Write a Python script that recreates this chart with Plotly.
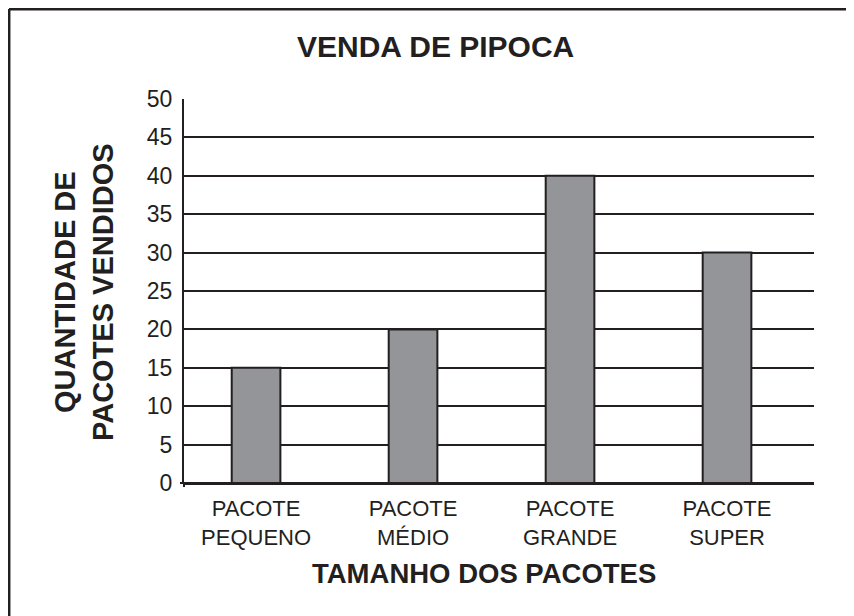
import plotly.graph_objects as go

categories = ["PACOTE<br>PEQUENO", "PACOTE<br>MÉDIO", "PACOTE<br>GRANDE", "PACOTE<br>SUPER"]
values = [15, 20, 40, 30]
y_ticks = [0, 5, 10, 15, 20, 25, 30, 35, 40, 45, 50]

INK = "#231f20"
OFF = 8  # page body margin
W, H = 854 - OFF, 616 - OFF
L, R, T, B = 176, 40, 91, 133
pw, ph = W - L - R, H - T - B

def px(x):
    return (x - OFF - L) / pw

def py(y):
    return (H - B - (y - OFF)) / ph

fig = go.Figure()
fig.add_trace(go.Bar(
    x=categories, y=values, width=0.31,
    marker=dict(color="#939598", line=dict(color=INK, width=2)),
))

fig.update_layout(
    width=W, height=H,
    margin=dict(l=L, r=R, t=T, b=B, pad=0),
    paper_bgcolor="white", plot_bgcolor="white",
    showlegend=False,
    font=dict(family="Liberation Sans, Arial, sans-serif", color=INK),
    xaxis=dict(
        type="category", range=[-0.459, 3.554],
        showgrid=False, showline=False, zeroline=False, ticks="",
        tickfont=dict(size=22, color=INK), ticklabelstandoff=10,
    ),
    yaxis=dict(
        range=[0, 50], tickvals=y_ticks, ticks="",
        showgrid=True, gridcolor=INK, gridwidth=2,
        zeroline=True, zerolinecolor=INK, zerolinewidth=2.5,
        showline=True, linecolor=INK, linewidth=2,
        tickfont=dict(size=23, color=INK), ticklabelstandoff=5,
    ),
    annotations=[
        dict(text="<b>VENDA DE PIPOCA</b>", xref="paper", yref="paper",
             x=px(435), y=py(47), xanchor="center", yanchor="middle",
             showarrow=False, font=dict(size=30, color=INK)),
        dict(text="<b>TAMANHO DOS PACOTES</b>", xref="paper", yref="paper",
             x=px(484), y=py(573), xanchor="center", yanchor="middle",
             showarrow=False, font=dict(size=27.5, color=INK)),
        dict(text="<b>QUANTIDADE DE<br>PACOTES VENDIDOS</b>", xref="paper", yref="paper",
             x=px(84), y=py(292), xanchor="center", yanchor="middle",
             textangle=-90, showarrow=False, font=dict(size=29, color=INK)),
    ],
    shapes=[
        dict(type="line", xref="paper", yref="paper", x0=px(9), y0=py(9.2), x1=px(870), y1=py(9.2),
             line=dict(color=INK, width=2.5)),
        dict(type="line", xref="paper", yref="paper", x0=px(9.2), y0=py(9), x1=px(9.2), y1=py(630),
             line=dict(color=INK, width=2.5)),
        dict(type="line", xref="paper", yref="paper", x0=px(180), y0=py(483), x1=px(184), y1=py(483),
             line=dict(color=INK, width=2)),
        dict(type="line", xref="paper", yref="paper", x0=px(184), y0=py(483), x1=px(184), y1=py(487),
             line=dict(color=INK, width=2)),
    ],
)

fig.write_html("out.html")
